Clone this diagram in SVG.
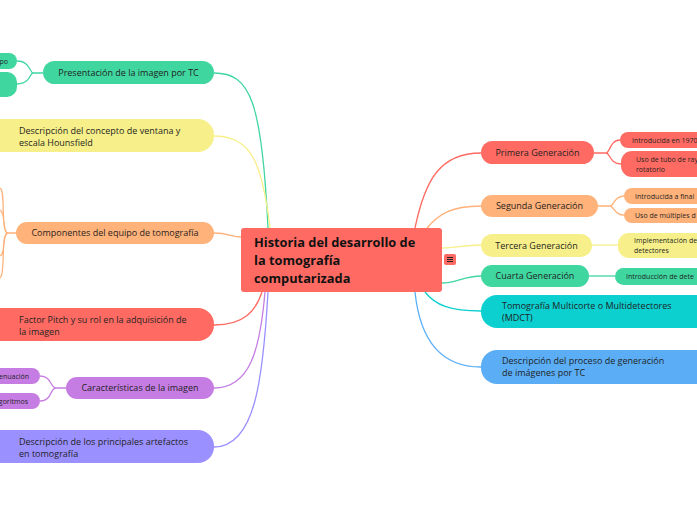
<svg xmlns="http://www.w3.org/2000/svg" width="697" height="520" viewBox="0 0 697 520">
<style>
text{font-family:"Open Sans","Noto Sans","DejaVu Sans",sans-serif;fill:#1f1f1f}
.m{font-size:9px}
.s{font-size:7px}
.c{font-size:12.8px;font-weight:bold;fill:#111}
.l{fill:none;stroke-width:1.3}
.red{fill:#FF6B63}.grn{fill:#40D6A0}.yel{fill:#F7F08A}.org{fill:#FFB27A}.pur{fill:#C67DE3}.lav{fill:#9B90FF}.tea{fill:#0CCFCF}.blu{fill:#5BAEF5}
</style>
<g id="connectors">
<path class="l" stroke="#40D6A0" d="M214 73 C250 73 262 100 268 228"/>
<path class="l" stroke="#F7F08A" d="M214 136 C250 136 262 160 270 228"/>
<path class="l" stroke="#FFB27A" d="M214 233 C228 233 232 237 241 237"/>
<path class="l" stroke="#FF6B63" d="M214 325 C245 325 256 310 262 292"/>
<path class="l" stroke="#C67DE3" d="M214 388 C250 388 260 350 265 292"/>
<path class="l" stroke="#9B90FF" d="M214 447 C255 447 263 380 268 292"/>
<path class="l" stroke="#FF6B63" d="M481 153 C440 153 425 180 415 228"/>
<path class="l" stroke="#FFB27A" d="M481 206 C450 206 438 215 427 228"/>
<path class="l" stroke="#F7F08A" d="M481 245 C465 245 455 248 442 248"/>
<path class="l" stroke="#40D6A0" d="M481 276 C465 276 455 283 442 283"/>
<path class="l" stroke="#0CCFCF" d="M481 311 C450 311 435 305 425 292"/>
<path class="l" stroke="#5BAEF5" d="M481 367 C440 367 420 340 415 292"/>
<path class="l" stroke="#40D6A0" d="M43 73 L33 73 C30 73 30 61 17 61 M33 73 C30 73 30 84 17 84"/>
<path class="l" stroke="#FFB27A" d="M16 233 L8 233 C0 233 6 190 0 188 M8 233 C2 233 6 212 0 210 M8 233 C2 233 6 254 0 256 M8 233 C0 233 6 274 0 278"/>
<path class="l" stroke="#C67DE3" d="M66 388 L56 388 C50 388 52 376 40 376 M56 388 C50 388 52 401 40 401"/>
<path class="l" stroke="#FF6B63" d="M594 153 L606 153 C610 153 610 140 620 140 M606 153 C610 153 610 164 621 164"/>
<path class="l" stroke="#FFB27A" d="M598 206 L610 206 C614 206 614 196 624 196 M610 206 C614 206 614 215 624 215"/>
<path class="l" stroke="#F7F08A" d="M592 245 L618 245"/>
<path class="l" stroke="#40D6A0" d="M589 276 L615 276"/>
</g>
<g id="center">
<rect class="red" x="241" y="228" width="201" height="64" rx="3"/>
<text class="c" x="254" y="247">Historia del desarrollo de</text>
<text class="c" x="254" y="265">la tomografía</text>
<text class="c" x="254" y="283">computarizada</text>
<rect class="red" x="444" y="254" width="12" height="11" rx="2"/>
<path d="M447 257.5h6M447 259.5h6M447 261.5h6" stroke="#222" stroke-width="1"/>
</g>
<g id="n-presentacion">
<rect class="grn" x="43" y="61" width="171" height="23" rx="11.5"/>
<text class="m" x="128.5" y="76" text-anchor="middle">Presentación de la imagen por TC</text>
</g>
<g id="n-presentacion-1">
<rect class="grn" x="-40" y="53" width="57" height="16" rx="8"/>
<text class="s" x="8" y="63.5" text-anchor="end">po</text>
</g>
<g id="n-presentacion-2">
<rect class="grn" x="-40" y="72" width="57" height="25" rx="10"/>
</g>
<g id="n-ventana">
<rect class="yel" x="-20" y="119" width="234" height="33" rx="16"/>
<text class="m" x="19" y="134">Descripción del concepto de ventana y</text>
<text class="m" x="19" y="146">escala Hounsfield</text>
</g>
<g id="n-componentes">
<rect class="org" x="16" y="222" width="198" height="22" rx="11"/>
<text class="m" x="115" y="236" text-anchor="middle">Componentes del equipo de tomografía</text>
</g>
<g id="n-pitch">
<rect class="red" x="-20" y="308" width="234" height="33" rx="16"/>
<text class="m" x="19" y="323">Factor Pitch y su rol en la adquisición de</text>
<text class="m" x="19" y="335">la imagen</text>
</g>
<g id="n-caracteristicas">
<rect class="pur" x="66" y="377" width="148" height="22" rx="11"/>
<text class="m" x="140" y="391" text-anchor="middle">Características de la imagen</text>
</g>
<g id="n-caract-1">
<rect class="pur" x="-40" y="368" width="80" height="16" rx="8"/>
<text class="s" x="29" y="378.5" text-anchor="end">enuación</text>
</g>
<g id="n-caract-2">
<rect class="pur" x="-40" y="393" width="80" height="16" rx="8"/>
<text class="s" x="28" y="403.5" text-anchor="end">goritmos</text>
</g>
<g id="n-artefactos">
<rect class="lav" x="-20" y="430" width="234" height="33" rx="16"/>
<text class="m" x="19" y="445">Descripción de los principales artefactos</text>
<text class="m" x="19" y="457">en tomografía</text>
</g>
<g id="n-primera">
<rect class="red" x="481" y="141" width="113" height="23" rx="11.5"/>
<text class="m" x="537.5" y="156" text-anchor="middle">Primera Generación</text>
</g>
<g id="n-primera-1">
<rect class="red" x="620" y="132" width="100" height="16" rx="8"/>
<text class="s" x="632" y="142.5">Introducida en 1970</text>
</g>
<g id="n-primera-2">
<rect class="red" x="621" y="151" width="100" height="26" rx="11"/>
<text class="s" x="636" y="161.5">Uso de tubo de ray</text>
<text class="s" x="636" y="171.5">rotatorio</text>
</g>
<g id="n-segunda">
<rect class="org" x="481" y="195" width="117" height="22" rx="11"/>
<text class="m" x="539.5" y="209" text-anchor="middle">Segunda Generación</text>
</g>
<g id="n-segunda-1">
<rect class="org" x="624" y="188" width="100" height="16" rx="8"/>
<text class="s" x="635" y="198.5">Introducida a final</text>
</g>
<g id="n-segunda-2">
<rect class="org" x="624" y="208" width="100" height="15" rx="7.5"/>
<text class="s" x="635" y="218">Uso de múltiples d</text>
</g>
<g id="n-tercera">
<rect class="yel" x="481" y="234" width="111" height="23" rx="11.5"/>
<text class="m" x="536.5" y="249" text-anchor="middle">Tercera Generación</text>
</g>
<g id="n-tercera-1">
<rect class="yel" x="618" y="233" width="100" height="25" rx="11"/>
<text class="s" x="634" y="243">Implementación de</text>
<text class="s" x="634" y="253">detectores</text>
</g>
<g id="n-cuarta">
<rect class="grn" x="481" y="265" width="108" height="22" rx="11"/>
<text class="m" x="535" y="279" text-anchor="middle">Cuarta Generación</text>
</g>
<g id="n-cuarta-1">
<rect class="grn" x="615" y="268" width="100" height="17" rx="8.5"/>
<text class="s" x="626" y="279">Introducción de dete</text>
</g>
<g id="n-mdct">
<rect class="tea" x="481" y="295" width="236" height="33" rx="16"/>
<text class="m" x="502" y="309">Tomografía Multicorte o Multidetectores</text>
<text class="m" x="502" y="321">(MDCT)</text>
</g>
<g id="n-proceso">
<rect class="blu" x="481" y="350" width="236" height="34" rx="16"/>
<text class="m" x="502" y="364">Descripción del proceso de generación</text>
<text class="m" x="502" y="376">de imágenes por TC</text>
</g>
</svg>
